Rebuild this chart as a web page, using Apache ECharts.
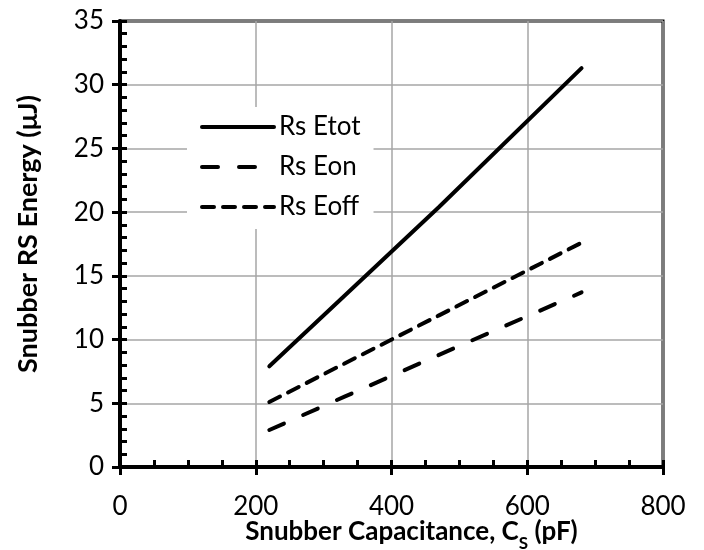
<!DOCTYPE html>
<html>
<head>
<meta charset="utf-8">
<script src="https://cdn.jsdelivr.net/npm/echarts@6/dist/echarts.min.js"></script>
<style>html,body{margin:0;padding:0;background:#fff;}#c{width:704px;height:550px;}</style>
</head>
<body>
<div id="c"></div>
<script>
const capacitance = [220, 330, 470, 680];
const etot = [7.9, 13.4, 20.4, 31.3];
const eon = [2.9, 5.5, 8.8, 13.7];
const eoff = [5.1, 8.1, 11.9, 17.6];
const seriesNames = ['Rs Etot', 'Rs Eon', 'Rs Eoff'];
const xTitle = 'Snubber Capacitance, C';
const xTitleSub = 'S';
const xTitleEnd = ' (pF)';
const yTitle = 'Snubber RS Energy (μJ)';

const font = 'Lato';
const chart = echarts.init(document.getElementById('c'));
function pairs(xs, ys) { return xs.map((x, i) => [x, ys[i]]); }

const xBase = { type: 'value', min: 0, max: 800, interval: 200, position: 'bottom' };
const yBase = { type: 'value', min: 0, max: 35, interval: 5, position: 'left' };
const tickStyle = { color: '#000', width: 3 };

chart.setOption({
  animation: false,
  backgroundColor: '#fff',
  grid: { left: 120, right: 41, top: 21, bottom: 83, show: true, borderColor: '#000', borderWidth: 3,
          containLabel: false, outerBoundsMode: 'none' },
  legend: {
    orient: 'vertical', left: 187, top: 107,
    backgroundColor: '#fff',
    padding: [7, 13, 9, 13],
    itemWidth: 72, itemHeight: 24, itemGap: 14,
    itemStyle: { opacity: 0 },
    lineStyle: { width: 4 },
    textStyle: { fontFamily: font, fontSize: 26, color: '#000' },
    data: seriesNames
  },
  xAxis: [
    Object.assign({}, xBase, {
      axisLine: { show: true, lineStyle: { color: '#000', width: 4 } },
      axisTick: { show: true, inside: true, length: 7, lineStyle: tickStyle },
      minorTick: { show: true, splitNumber: 4, length: 7, lineStyle: tickStyle },
      splitLine: { show: true, lineStyle: { color: '#a6a6a6', width: 1.5 } },
      axisLabel: { margin: 27, fontFamily: font, fontSize: 26, color: '#000' },
      name: '{a|' + xTitle + '}{s|' + xTitleSub + '}{a|' + xTitleEnd + '}',
      nameLocation: 'middle', nameGap: 48, nameMoveOverlap: false,
      nameTextStyle: {
        padding: [0, 0, 0, 40],
        rich: {
          a: { fontFamily: font, fontSize: 26, fontWeight: 'bold', color: '#000', lineHeight: 30, verticalAlign: 'bottom' },
          s: { fontFamily: font, fontSize: 17, fontWeight: 'bold', color: '#000', lineHeight: 30, verticalAlign: 'bottom', padding: [0, 0, -7, 0] }
        }
      }
    }),
    Object.assign({}, xBase, {
      axisLine: { show: false },
      axisTick: { show: true, inside: false, length: 8, lineStyle: tickStyle },
      splitLine: { show: false },
      axisLabel: { show: false }
    })
  ],
  yAxis: [
    Object.assign({}, yBase, {
      axisLine: { show: true, lineStyle: { color: '#000', width: 4 } },
      axisTick: { show: true, inside: true, length: 7, lineStyle: tickStyle },
      minorTick: { show: true, splitNumber: 5, length: 7, lineStyle: tickStyle },
      splitLine: { show: true, lineStyle: { color: '#a6a6a6', width: 1.5 } },
      axisLabel: { margin: 16, fontFamily: font, fontSize: 26, color: '#000' },
      name: yTitle, nameLocation: 'middle', nameGap: 78, nameRotate: 90, nameMoveOverlap: false,
      nameTextStyle: { fontFamily: font, fontSize: 27, fontWeight: 'bold', color: '#000', padding: [0, 0, 0, 20] }
    }),
    Object.assign({}, yBase, {
      axisLine: { show: false },
      axisTick: { show: true, inside: false, length: 8, lineStyle: tickStyle },
      splitLine: { show: false },
      axisLabel: { show: false }
    })
  ],
  series: [
    { name: seriesNames[0], type: 'line', data: pairs(capacitance, etot), symbol: 'none', showSymbol: false,
      lineStyle: { color: '#000', width: 4, type: 'solid', cap: 'round' }, itemStyle: { color: '#000' }, z: 5 },
    { name: seriesNames[1], type: 'line', data: pairs(capacitance, eon), symbol: 'none', showSymbol: false,
      lineStyle: { color: '#000', width: 4, type: [16, 21], cap: 'round' }, itemStyle: { color: '#000' }, z: 5 },
    { name: seriesNames[2], type: 'line', data: pairs(capacitance, eoff), symbol: 'none', showSymbol: false,
      lineStyle: { color: '#000', width: 4, type: [12, 9], cap: 'round' }, itemStyle: { color: '#000' }, z: 5 }
  ]
});
</script>
</body>
</html>
